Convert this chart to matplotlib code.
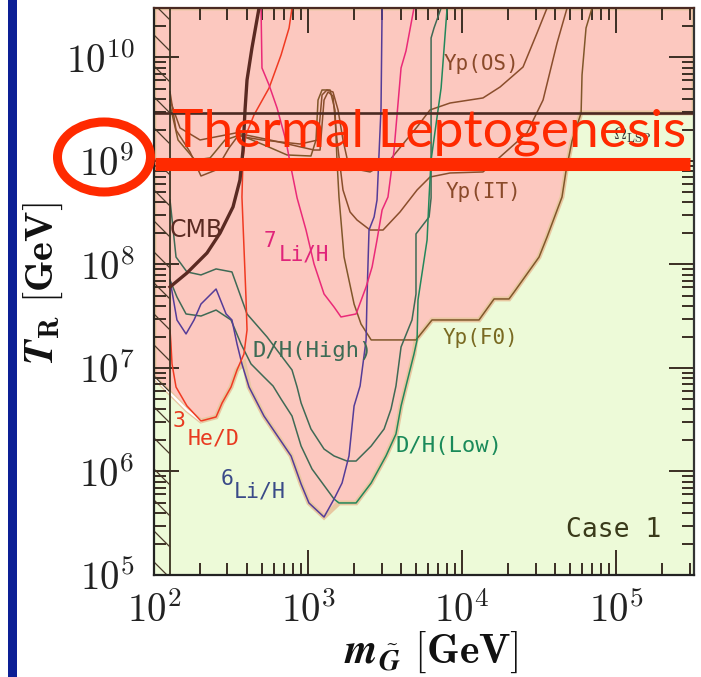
import numpy as np
import matplotlib
matplotlib.use("Agg")
import matplotlib.pyplot as plt
from matplotlib import font_manager
from matplotlib.patches import Polygon, Ellipse, Rectangle
from matplotlib.lines import Line2D
from matplotlib.collections import LineCollection
from matplotlib.ticker import LogLocator, NullFormatter, FuncFormatter

plt.rcParams["mathtext.fontset"] = "cm"

installed = {f.name for f in font_manager.fontManager.ttflist}
NARROW = "Liberation Sans Narrow" if "Liberation Sans Narrow" in installed else "DejaVu Sans"
MONO = "DejaVu Sans Mono"
BANNER = "Lato" if "Lato" in installed else "DejaVu Sans"

# ---- constraint curves: log10(m_gravitino / GeV), log10(T_R / GeV) ----
cmb_lgm = [2.104, 2.214, 2.344, 2.429, 2.513, 2.558, 2.578, 2.591, 2.604, 2.636, 2.682]
cmb_lgT = [7.783, 7.918, 8.111, 8.304, 8.556, 8.816, 9.106, 9.493, 9.783, 10.092, 10.478]

li7_lgm = [2.695, 2.701, 2.747, 2.799, 2.857, 2.890, 2.929, 2.987, 3.039, 3.104, 3.169,
           3.214, 3.312, 3.377, 3.416, 3.448, 3.481, 3.519, 3.558, 3.604, 3.636, 3.688]
li7_lgT = [10.478, 9.899, 9.734, 9.512, 9.193, 8.932, 8.643, 8.333, 8.005, 7.715, 7.589,
           7.493, 7.522, 7.783, 7.976, 8.237, 8.527, 8.652, 9.097, 9.899, 10.063, 10.478]

he3_lgm = [2.104, 2.110, 2.117, 2.143, 2.214, 2.305, 2.403, 2.442, 2.500, 2.539, 2.584,
           2.604, 2.597, 2.571, 2.578, 2.597, 2.649, 2.747, 2.825, 2.877, 2.896]
he3_lgT = [7.367, 7.232, 7.039, 6.816, 6.633, 6.488, 6.527, 6.662, 6.816, 6.981, 7.135,
           7.367, 7.686, 8.652, 9.029, 9.251, 9.444, 9.705, 10.024, 10.285, 10.478]

li6_lgm = [2.104, 2.149, 2.208, 2.260, 2.305, 2.403, 2.468, 2.506, 2.539, 2.571, 2.617,
           2.714, 2.890, 2.955, 3.006, 3.104, 3.169, 3.221, 3.266, 3.299, 3.338, 3.377,
           3.383, 3.396, 3.429, 3.448, 3.474, 3.481]
li6_lgT = [7.850, 7.464, 7.329, 7.464, 7.618, 7.763, 7.522, 7.464, 7.232, 7.039, 6.816,
           6.536, 6.150, 5.879, 5.696, 5.560, 5.734, 5.889, 6.150, 6.633, 6.826, 7.271,
           7.686, 8.333, 8.459, 8.623, 9.512, 10.478]

dh_high_lgm = [2.104, 2.143, 2.214, 2.305, 2.403, 2.506, 2.604, 2.734, 2.896, 2.929, 2.955,
               3.019, 3.104, 3.169, 3.253, 3.312, 3.410, 3.494, 3.539, 3.571, 3.604, 3.675,
               3.701, 3.701, 3.786, 3.799, 3.799, 3.818, 3.864]
dh_high_lgT = [8.623, 8.072, 7.928, 7.899, 7.957, 7.928, 7.522, 7.300, 6.981, 6.816, 6.662,
               6.411, 6.217, 6.150, 6.101, 6.101, 6.246, 6.411, 6.604, 6.826, 7.203, 7.464,
               7.715, 8.295, 8.459, 8.643, 10.188, 10.285, 10.478]

dh_low_lgm = [2.104, 2.149, 2.208, 2.305, 2.403, 2.500, 2.565, 2.630, 2.714, 2.773, 2.825,
              2.896, 2.955, 3.026, 3.169, 3.201, 3.312, 3.410, 3.506, 3.571, 3.604, 3.636,
              3.688, 3.708, 3.714, 3.773, 3.786, 3.799, 3.864, 3.903]
dh_low_lgT = [7.850, 7.686, 7.522, 7.502, 7.560, 7.464, 7.232, 7.039, 6.913, 6.826, 6.700,
              6.536, 6.246, 6.024, 5.734, 5.696, 5.696, 5.889, 6.150, 6.362, 6.633, 6.826,
              7.135, 7.271, 7.657, 8.237, 8.652, 9.010, 9.705, 10.478]

yp_os_lgm = [2.104, 2.143, 2.234, 2.305, 2.403, 2.487, 2.545, 2.701, 2.948, 3.065, 3.091,
             3.123, 3.162, 3.195, 3.227, 3.260, 3.338, 3.403, 3.532, 3.708, 3.792, 3.922,
             4.136, 4.247, 4.396, 4.487, 4.552]
yp_os_lgT = [9.667, 9.300, 9.087, 8.855, 8.913, 9.126, 9.242, 9.203, 9.164, 9.203, 9.638,
             9.686, 9.667, 9.493, 9.203, 8.981, 8.913, 8.894, 9.010, 9.329, 9.493, 9.560,
             9.609, 9.715, 9.908, 10.237, 10.478]

yp_it_lgm = [2.104, 2.169, 2.299, 2.532, 2.753, 3.039, 3.078, 3.104, 3.130, 3.162, 3.188,
             3.227, 3.273, 3.318, 3.403, 3.487, 3.597, 3.708, 3.792, 3.922, 4.136, 4.247,
             4.422, 4.526, 4.617, 4.682]
yp_it_lgT = [9.589, 9.319, 9.203, 9.271, 9.203, 9.106, 9.106, 9.589, 9.667, 9.628, 9.203,
             8.720, 8.507, 8.430, 8.333, 8.333, 8.507, 8.720, 8.845, 8.884, 8.894, 9.039,
             9.271, 9.589, 10.140, 10.478]

yp_fo_lgm = [2.104, 2.156, 2.266, 2.364, 2.461, 2.558, 2.714, 2.864, 3.019, 3.052, 3.065,
             3.091, 3.143, 3.175, 3.188, 3.201, 3.234, 3.299, 3.344, 3.410, 3.701, 3.805,
             4.110, 4.208, 4.305, 4.338, 4.500, 4.552, 4.649, 4.675, 4.714, 4.773, 4.779,
             4.805, 4.844]
yp_fo_lgT = [9.541, 9.203, 9.010, 9.029, 9.203, 9.251, 9.155, 9.058, 9.048, 9.203, 9.589,
             9.686, 9.686, 9.493, 9.010, 8.652, 8.072, 7.618, 7.425, 7.271, 7.271, 7.464,
             7.464, 7.667, 7.667, 7.734, 8.072, 8.266, 8.652, 8.903, 9.193, 9.464, 9.831,
             10.285, 10.478]

# overclosure bound from the LSP relic density
omega_lgT = 9.464
# lower edge of the gravitino mass range considered
m_min_lgm = 2.104

# excluded region (union of all the bounds above)
excl_lgm = [2.0, 5.506, 5.506, 4.773, 4.714, 4.675, 4.649, 4.552, 4.500, 4.338, 4.305,
            4.208, 4.110, 3.805, 3.701, 3.688, 3.636, 3.604, 3.571, 3.506, 3.410, 3.312,
            3.201, 3.104, 3.006, 2.955, 2.890, 2.714, 2.617, 2.584, 2.539, 2.500, 2.442,
            2.403, 2.305, 2.214, 2.0]
excl_lgT = [10.478, 10.478, 9.464, 9.464, 9.193, 8.903, 8.652, 8.266, 8.072, 7.734, 7.667,
            7.667, 7.464, 7.464, 7.271, 7.135, 6.826, 6.633, 6.362, 6.150, 5.889, 5.696,
            5.696, 5.560, 5.696, 5.879, 6.150, 6.536, 6.816, 7.048, 6.981, 6.816, 6.662,
            6.527, 6.488, 6.594, 6.913]

x_ticks = [2, 3, 4, 5]
y_ticks = [5, 6, 7, 8, 9, 10]

W, H = 701, 677
fig = plt.figure(figsize=(W / 100, H / 100), dpi=100)
fig.patch.set_facecolor("white")


def fx(px):
    return px / W


def fy(py):
    return 1 - py / H


ax = fig.add_axes([fx(154), fy(575), fx(694) - fx(154), fy(8) - fy(575)])
ax.set_xscale("log")
ax.set_yscale("log")
ax.set_xlim(10 ** 2.0, 10 ** 5.506)
ax.set_ylim(10 ** 5.0, 10 ** 10.478)
ax.set_facecolor("#edfad8")


def P(lgm, lgT):
    return 10 ** np.asarray(lgm), 10 ** np.asarray(lgT)


# excluded region with a tan rim
ex, ey = P(excl_lgm, excl_lgT)
ax.add_patch(Polygon(np.column_stack([ex, ey]), closed=True, facecolor="#fcc8bf",
                     edgecolor="#e8c7a0", lw=3.5, zorder=1))
# thin white seam along the low-mass edge of the excluded region
ax.plot(*P(excl_lgm[-3:], excl_lgT[-3:]), color="white", lw=1.6, zorder=1.5)

# hatched strip below the lower mass edge
ax.axvline(10 ** m_min_lgm, color="#3b3322", lw=1.3, zorder=3)
sx = 16 / 540
segs = []
for py in np.arange(4, 575, 31):
    y0 = 1 - (py - 8) / 567
    segs.append([(0, y0), (sx, y0 - 16 / 567)])
ax.add_collection(LineCollection(segs, colors="#4a3a2a", lw=0.9,
                                 transform=ax.transAxes, zorder=3, clip_on=True))

lw = 1.1
ax.plot(*P(yp_fo_lgm, yp_fo_lgT), color="#80572a", lw=lw, zorder=2)
ax.plot(*P(yp_it_lgm, yp_it_lgT), color="#8a4e2c", lw=lw, zorder=2)
ax.plot(*P(yp_os_lgm, yp_os_lgT), color="#8a4e2c", lw=lw, zorder=2)
ax.plot(*P(dh_high_lgm, dh_high_lgT), color="#3f6a55", lw=lw, zorder=2)
ax.plot(*P(dh_low_lgm[:15], dh_low_lgT[:15]), color="#3f6a55", lw=lw, zorder=2)
ax.plot(*P(dh_low_lgm[14:], dh_low_lgT[14:]), color="#23875a", lw=lw, zorder=2)
ax.plot(*P(li6_lgm, li6_lgT), color="#553c98", lw=lw, zorder=2)
ax.plot(*P(he3_lgm, he3_lgT), color="#f03a22", lw=lw, zorder=2)
ax.plot(*P(li7_lgm, li7_lgT), color="#ea2a78", lw=lw, zorder=2)
ax.plot(*P(cmb_lgm, cmb_lgT), color="#5a2a22", lw=2.4, zorder=3)
ax.axhline(10 ** omega_lgT, color="#4a2a22", lw=1.9, zorder=3)

# curve labels
def lab(lgm, lgT, s, color, size=15.5, family=MONO):
    ax.text(10 ** lgm, 10 ** lgT, s, color=color, fontsize=size, family=family,
            ha="center", va="center", zorder=4)


lab(2.273, 8.333, "CMB", "#5a2a22", 17, NARROW)
lab(2.753, 8.227, "7", "#e0247a", 15)
lab(2.974, 8.092, "Li/H", "#e0247a", 15)
lab(2.162, 6.488, "3", "#e83a20", 15.5)
lab(2.390, 6.314, "He/D", "#e83a20", 15.5)
lab(2.474, 5.928, "6", "#3a4a88", 15.5)
lab(2.688, 5.802, "Li/H", "#3a4a88", 15.5)
lab(3.032, 7.164, "D/H(High)", "#3d6b55", 16)
lab(3.916, 6.246, "D/H(Low)", "#1a8a5a", 16)
lab(4.123, 9.937, "Yp(OS)", "#8a4a2a", 15)
lab(4.136, 8.700, "Yp(IT)", "#8a4a2a", 15)
lab(4.117, 7.290, "Yp(F0)", "#7a6a22", 15)
lab(4.987, 5.435, "Case 1", "#3a3a1a", 19)
ax.text(10 ** 4.98, 10 ** 9.25, r"$\Omega_{\rm LSP}$", color="#333333", fontsize=13,
        ha="left", va="center", zorder=4)

# axes frame and ticks
for side, c in [("left", "#222222"), ("bottom", "#222222"), ("top", "#4a2a22"), ("right", "#333333")]:
    ax.spines[side].set_color(c)
    ax.spines[side].set_linewidth(1.6)
    ax.spines[side].set_zorder(5)

for axis, ticks in [(ax.xaxis, x_ticks), (ax.yaxis, y_ticks)]:
    axis.set_major_locator(LogLocator(base=10, numticks=20))
    axis.set_minor_locator(LogLocator(base=10, subs=np.arange(2, 10), numticks=100))
    axis.set_minor_formatter(NullFormatter())
    axis.set_major_formatter(FuncFormatter(lambda v, p: r"$10^{%d}$" % round(np.log10(v))))

ax.tick_params(which="both", direction="in", top=True, right=True, colors="#3b2e24",
               width=1.4, labelcolor="#222222", zorder=6)
ax.tick_params(which="major", length=18, labelsize=28)
ax.tick_params(axis="x", which="major", pad=12)
ax.tick_params(axis="y", which="major", pad=14)
ax.tick_params(which="minor", length=8.5)

# axis titles
fig.text(fx(43), fy(284), r"$\mathbfit{T}_{\mathbf{R}}\ \mathbf{[GeV]}$", rotation=90,
         ha="center", va="center", fontsize=29, color="#111111")
fig.text(fx(431), fy(652), r"$\mathbfit{m}_{\tilde{\mathbfit{G}}}\ \mathbf{[GeV]}$",
         ha="center", va="center", fontsize=30, color="#111111")

# left accent bar
fig.add_artist(Rectangle((fx(8), 0), fx(17) - fx(8), 1, transform=fig.transFigure,
                         facecolor="#0c1f95", edgecolor="none", zorder=3))

# leptogenesis marker
RED = "#ff2a00"
fig.add_artist(Line2D([fx(155), fx(690)], [fy(163.5), fy(163.5)], transform=fig.transFigure,
                      color=RED, lw=9.4, solid_capstyle="butt", zorder=5))
fig.add_artist(Ellipse((fx(104), fy(157)), fx(93), 70 / H, transform=fig.transFigure,
                       fill=False, edgecolor=RED, lw=6.5, zorder=5))
fig.text(fx(172), fy(147), "Thermal Leptogenesis", family=BANNER, fontsize=38.5,
         color=RED, ha="left", va="baseline", zorder=6)

fig.savefig("out.png", dpi=100)
